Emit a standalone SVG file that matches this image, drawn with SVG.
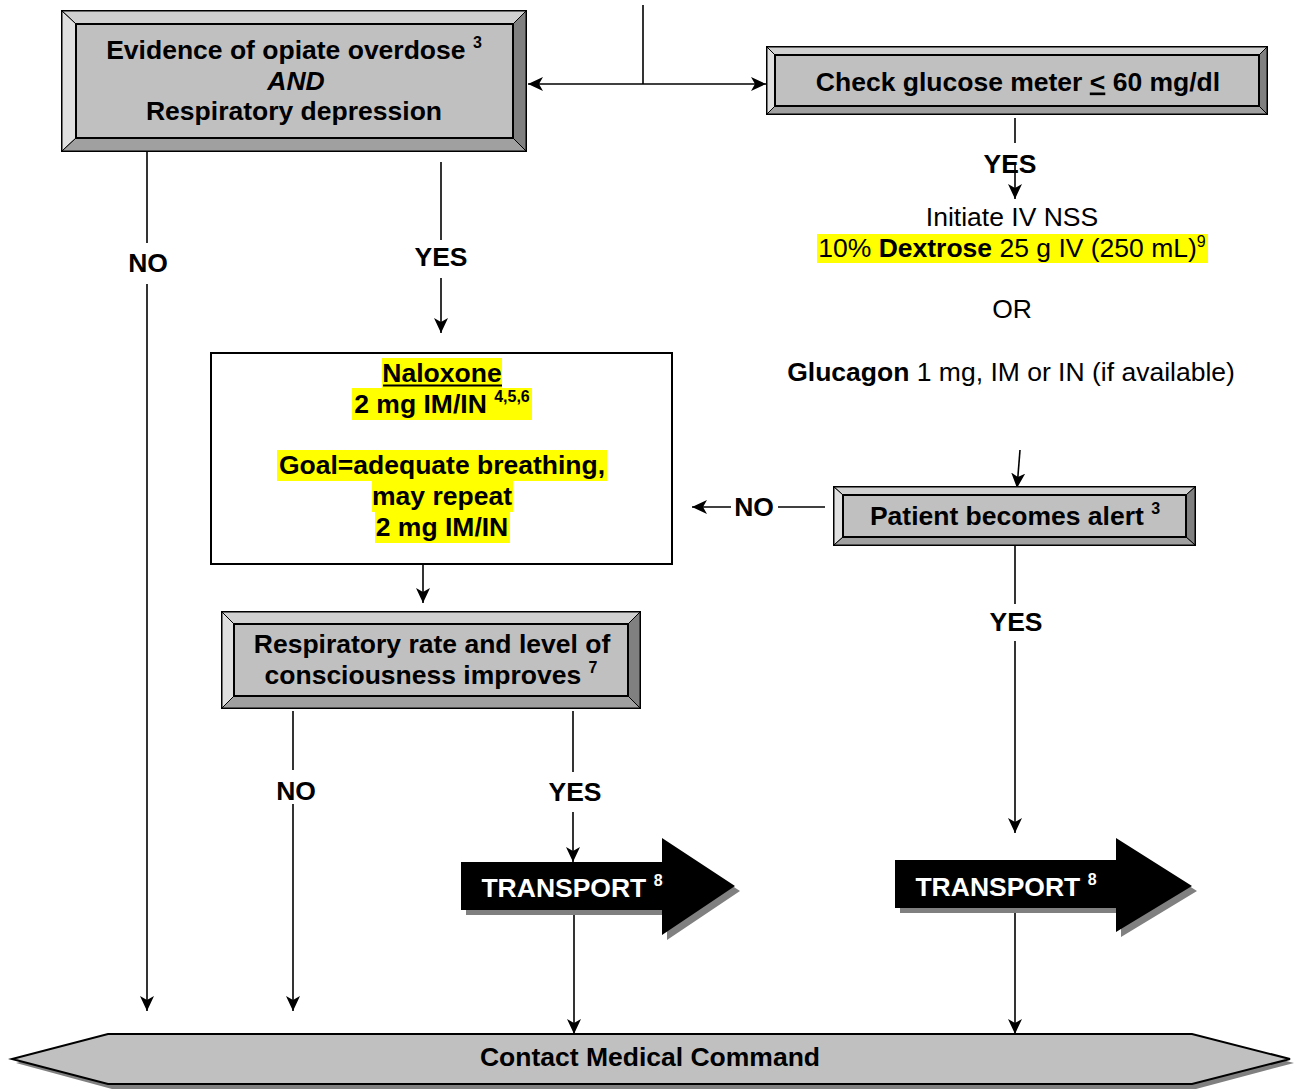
<svg xmlns="http://www.w3.org/2000/svg" width="1296" height="1089" viewBox="0 0 1296 1089">
<style>
text{font-family:"Liberation Sans",Arial,sans-serif;font-size:26.5px;fill:#000}
.b{font-weight:bold}
.c{text-anchor:middle}
.sup{font-size:16px;font-weight:bold}
.w{fill:#fff}
.ln{stroke:#000;stroke-width:1.6;fill:none}
.face{fill:#c0c0c0;stroke:#000;stroke-width:2}
.bt{fill:#d0d0d0;stroke:#000;stroke-width:1}
.bl{fill:#e0e0e0;stroke:#000;stroke-width:1}
.br{fill:#808080;stroke:#000;stroke-width:1}
.bb{fill:#a0a0a0;stroke:#000;stroke-width:1}
.hl{fill:#ffff00}
</style>
<defs>
<marker id="ah" markerUnits="userSpaceOnUse" markerWidth="17" markerHeight="16" refX="15" refY="7" orient="auto-start-reverse">
<path d="M0,0 L15,7 L0,14 L4,7 z" fill="#000"/>
</marker>
</defs>

<g id="connectors">
<line class="ln" x1="643" y1="5" x2="643" y2="84"/>
<line class="ln" x1="528" y1="84" x2="766" y2="84" marker-start="url(#ah)" marker-end="url(#ah)"/>
<line class="ln" x1="147" y1="152" x2="147" y2="243"/>
<line class="ln" x1="147" y1="284" x2="147" y2="1011" marker-end="url(#ah)"/>
<line class="ln" x1="441" y1="162" x2="441" y2="240"/>
<line class="ln" x1="441" y1="278" x2="441" y2="333" marker-end="url(#ah)"/>
<line class="ln" x1="1015" y1="118" x2="1015" y2="143"/>
<line class="ln" x1="1015" y1="164" x2="1015" y2="199" marker-end="url(#ah)"/>
<line class="ln" x1="1020" y1="450" x2="1017" y2="488" marker-end="url(#ah)"/>
<line class="ln" x1="825" y1="507" x2="778" y2="507"/>
<line class="ln" x1="731" y1="507" x2="692" y2="507" marker-end="url(#ah)"/>
<line class="ln" x1="1015" y1="546" x2="1015" y2="604"/>
<line class="ln" x1="1015" y1="641" x2="1015" y2="833" marker-end="url(#ah)"/>
<line class="ln" x1="423" y1="565" x2="423" y2="603" marker-end="url(#ah)"/>
<line class="ln" x1="293" y1="711" x2="293" y2="770"/>
<line class="ln" x1="293" y1="804" x2="293" y2="1011" marker-end="url(#ah)"/>
<line class="ln" x1="573" y1="711" x2="573" y2="772"/>
<line class="ln" x1="573" y1="812" x2="573" y2="862" marker-end="url(#ah)"/>
<line class="ln" x1="574" y1="911" x2="574" y2="1034" marker-end="url(#ah)"/>
<line class="ln" x1="1015" y1="909" x2="1015" y2="1034" marker-end="url(#ah)"/>
<text class="b c" x="148" y="272">NO</text>
<text class="b c" x="441" y="266">YES</text>
<text class="b c" x="1010" y="173">YES</text>
<text class="b c" x="754" y="516">NO</text>
<text class="b c" x="1016" y="631">YES</text>
<text class="b c" x="296" y="800">NO</text>
<text class="b c" x="575" y="801">YES</text>
</g>

<g id="node-opiate">
<rect x="62" y="11" width="464" height="140" class="face"/>
<polygon class="bt" points="62,11 526,11 513,24 76,24"/>
<polygon class="bl" points="62,11 76,24 76,138 62,151"/>
<polygon class="br" points="526,11 526,151 513,138 513,24"/>
<polygon class="bb" points="62,151 76,138 513,138 526,151"/>
<rect x="76" y="24" width="437" height="114" class="face"/>
<text class="b c" x="294" y="59">Evidence of opiate overdose <tspan class="sup" dy="-11">3</tspan></text>
<text class="b c" x="296" y="89.5" font-style="italic">AND</text>
<text class="b c" x="294" y="120">Respiratory depression</text>
</g>

<g id="node-glucose">
<rect x="767" y="47" width="500" height="67" class="face"/>
<polygon class="bt" points="767,47 1267,47 1259,55 775,55"/>
<polygon class="bl" points="767,47 775,55 775,106 767,114"/>
<polygon class="br" points="1267,47 1267,114 1259,106 1259,55"/>
<polygon class="bb" points="767,114 775,106 1259,106 1267,114"/>
<rect x="775" y="55" width="484" height="51" class="face"/>
<text class="b c" x="1018" y="90.5">Check glucose meter <tspan text-decoration="underline">&lt;</tspan> 60 mg/dl</text>
</g>

<g id="node-dextrose">
<rect class="hl" x="817" y="234" width="391" height="29"/>
<text class="c" x="1012" y="226">Initiate IV NSS</text>
<text class="c" x="1012" y="257">10% <tspan class="b">Dextrose</tspan> 25 g IV (250 mL)<tspan font-size="16" dy="-10">9</tspan></text>
<text class="c" x="1012" y="318">OR</text>
<text class="c" x="1011" y="381"><tspan class="b">Glucagon</tspan> 1 mg, IM or IN (if available)</text>
</g>

<g id="node-naloxone">
<rect x="211" y="353" width="461" height="211" fill="#fff" stroke="#000" stroke-width="2"/>
<rect class="hl" x="382" y="358" width="120" height="30"/>
<rect class="hl" x="352" y="388" width="180" height="32"/>
<rect class="hl" x="277" y="450" width="330" height="31"/>
<rect class="hl" x="372" y="481" width="141" height="31"/>
<rect class="hl" x="375" y="512" width="135" height="31"/>
<text class="b c" x="442" y="382">Naloxone</text>
<line x1="383" y1="385.5" x2="502" y2="385.5" stroke="#000" stroke-width="2.2"/>
<text class="b c" x="442" y="413">2 mg IM/IN <tspan class="sup" dy="-11">4,5,6</tspan></text>
<text class="b c" x="442" y="474">Goal=adequate breathing,</text>
<text class="b c" x="442" y="505">may repeat</text>
<text class="b c" x="442" y="536">2 mg IM/IN</text>
</g>

<g id="node-alert">
<rect x="834" y="487" width="361" height="58" class="face"/>
<polygon class="bt" points="834,487 1195,487 1186,495 843,495"/>
<polygon class="bl" points="834,487 843,495 843,537 834,545"/>
<polygon class="br" points="1195,487 1195,545 1186,537 1186,495"/>
<polygon class="bb" points="834,545 843,537 1186,537 1195,545"/>
<rect x="843" y="495" width="343" height="42" class="face"/>
<text class="b c" x="1015" y="525">Patient becomes alert <tspan class="sup" dy="-11">3</tspan></text>
</g>

<g id="node-resp">
<rect x="222" y="612" width="418" height="96" class="face"/>
<polygon class="bt" points="222,612 640,612 628,624 234,624"/>
<polygon class="bl" points="222,612 234,624 234,696 222,708"/>
<polygon class="br" points="640,612 640,708 628,696 628,624"/>
<polygon class="bb" points="222,708 234,696 628,696 640,708"/>
<rect x="234" y="624" width="394" height="72" class="face"/>
<text class="b c" x="432" y="653">Respiratory rate and level of</text>
<text class="b c" x="431" y="684">consciousness improves <tspan class="sup" dy="-11">7</tspan></text>
</g>

<g id="node-transport1">
<polygon points="466,867 667,867 667,843 740,891 667,940 667,915 466,915" fill="#808080"/>
<polygon points="461,862 662,862 662,838 735,886 662,935 662,910 461,910" fill="#000"/>
<text class="b c w" x="572" y="897">TRANSPORT <tspan class="sup" dy="-11">8</tspan></text>
</g>

<g id="node-transport2">
<polygon points="900,865 1121,865 1121,843 1197,891 1121,937 1121,913 900,913" fill="#808080"/>
<polygon points="895,860 1116,860 1116,838 1192,886 1116,932 1116,908 895,908" fill="#000"/>
<text class="b c w" x="1006" y="896">TRANSPORT <tspan class="sup" dy="-11">8</tspan></text>
</g>

<g id="node-command">
<polygon points="112,1037 1196,1037 1294,1063 1196,1089 112,1089 16,1063" fill="#808080"/>
<polygon points="108,1034 1192,1034 1290,1059 1192,1084 108,1084 12,1059" fill="#c0c0c0" stroke="#000" stroke-width="2"/>
<text class="b c" x="650" y="1066">Contact Medical Command</text>
</g>
</svg>
